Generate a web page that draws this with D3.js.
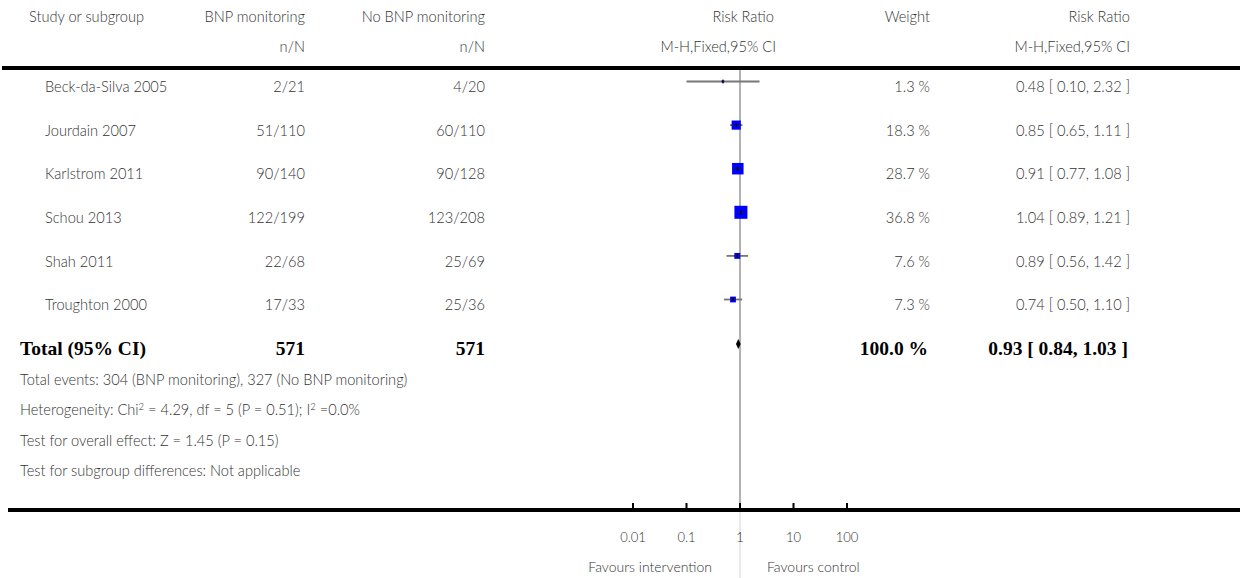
<!DOCTYPE html>
<html lang="en">
<head>
    <meta charset="UTF-8">
    <title>Forest plot: BNP monitoring vs No BNP monitoring</title>
    <script src="https://d3js.org/d3.v7.min.js"></script>
    <style>
        body { margin: 0; background: #fff; }
        svg { display: block; }
        .txt { font-family: Lato, "Open Sans", sans-serif; font-size: 14.6px; fill: #333; font-weight: 300; }
        .tot { font-family: "Liberation Serif", "Times New Roman", serif; font-size: 19.5px; font-weight: bold; fill: #000; }
    </style>
</head>
<body>
<svg width="1242" height="578"></svg>
<script>
    // data
    const studies = ["Beck-da-Silva 2005", "Jourdain 2007", "Karlstrom 2011", "Schou 2013", "Shah 2011", "Troughton 2000"];
    const bnpEvents = [2, 51, 90, 122, 22, 17];
    const bnpTotal = [21, 110, 140, 199, 68, 33];
    const ctrlEvents = [4, 60, 90, 123, 25, 25];
    const ctrlTotal = [20, 110, 128, 208, 69, 36];
    const rr = [0.48, 0.85, 0.91, 1.04, 0.89, 0.74];
    const rrLow = [0.10, 0.65, 0.77, 0.89, 0.56, 0.50];
    const rrHigh = [2.32, 1.11, 1.08, 1.21, 1.42, 1.10];
    const weights = [1.3, 18.3, 28.7, 36.8, 7.6, 7.3];
    const total = { bnp: 571, ctrl: 571, weight: 100.0, rr: 0.93, low: 0.84, high: 1.03 };
    const axisTicks = [0.01, 0.1, 1, 10, 100];
    const footnotes = [
        "Total events: 304 (BNP monitoring), 327 (No BNP monitoring)",
        "Heterogeneity: Chi<sup>2</sup> = 4.29, df = 5 (P = 0.51); I<sup>2</sup> =0.0%",
        "Test for overall effect: Z = 1.45 (P = 0.15)",
        "Test for subgroup differences: Not applicable"
    ];

    const svg = d3.select("svg");
    const fmt = d3.format(".2f");

    const x = d3.scaleLog().domain([0.01, 100]).range([633, 847]);
    const y = d3.scalePoint().domain(studies).range([87, 305]);
    const size = d3.scaleSqrt().domain([0, 36.8]).range([0, 13]);

    // column right edges
    const colBnp = 305, colCtrl = 485, colRR = 776, colW = 930, colCI = 1130;

    function text(str, xp, yp, anchor, cls) {
        return svg.append("text")
            .attr("class", cls || "txt")
            .attr("x", xp).attr("y", yp)
            .attr("dy", "0.35em")
            .attr("text-anchor", anchor || "start")
            .text(str);
    }

    // header
    text("Study or subgroup", 29, 17);
    text("BNP monitoring", colBnp, 17, "end");
    text("n/N", colBnp, 47, "end");
    text("No BNP monitoring", colCtrl, 17, "end");
    text("n/N", colCtrl, 47, "end");
    text("Risk Ratio", colRR - 2, 17, "end");
    text("M-H,Fixed,95% CI", colRR, 47, "end");
    text("Weight", colW, 17, "end");
    text("Risk Ratio", colCI, 17, "end");
    text("M-H,Fixed,95% CI", colCI, 47, "end");

    // null line
    svg.append("line")
        .attr("x1", x(1)).attr("x2", x(1))
        .attr("y1", 68).attr("y2", 510)
        .attr("stroke", "#999").attr("stroke-width", 1.5);
    svg.append("line")
        .attr("x1", x(1)).attr("x2", x(1))
        .attr("y1", 510).attr("y2", 578)
        .attr("stroke", "#e2e2e2").attr("stroke-width", 1.5);

    // thick rules
    svg.append("line").attr("x1", 2).attr("x2", 1240).attr("y1", 68).attr("y2", 68)
        .attr("stroke", "#000").attr("stroke-width", 4);
    svg.append("line").attr("x1", 8).attr("x2", 1240).attr("y1", 510).attr("y2", 510)
        .attr("stroke", "#000").attr("stroke-width", 4);

    // study rows
    studies.forEach((s, i) => {
        const yy = y(s);
        const ym = yy - 5.5;
        text(s, 45, yy);
        text(bnpEvents[i] + "/" + bnpTotal[i], colBnp, yy, "end");
        text(ctrlEvents[i] + "/" + ctrlTotal[i], colCtrl, yy, "end");
        text(weights[i].toFixed(1) + " %", colW, yy, "end");
        text(fmt(rr[i]) + " [ " + fmt(rrLow[i]) + ", " + fmt(rrHigh[i]) + " ]", colCI, yy, "end");

        // CI line
        svg.append("line")
            .attr("x1", x(rrLow[i])).attr("x2", x(rrHigh[i]))
            .attr("y1", ym).attr("y2", ym)
            .attr("stroke", "#777").attr("stroke-width", 1.8);

        // weight square
        const w = size(weights[i]);
        svg.append("rect")
            .attr("x", x(rr[i]) - w / 2).attr("y", ym - w / 2)
            .attr("width", w).attr("height", w)
            .attr("fill", "#0000ff");

        // dark part of CI inside the square + point tick
        const inLo = Math.max(x(rrLow[i]), x(rr[i]) - w / 2);
        const inHi = Math.min(x(rrHigh[i]), x(rr[i]) + w / 2);
        svg.append("line")
            .attr("x1", inLo).attr("x2", inHi)
            .attr("y1", ym).attr("y2", ym)
            .attr("stroke", "#222").attr("stroke-width", 1);
        svg.append("line")
            .attr("x1", x(rr[i])).attr("x2", x(rr[i]))
            .attr("y1", ym - 2).attr("y2", ym + 2)
            .attr("stroke", "#000").attr("stroke-width", 1);
    });

    // total row
    const yt = 348;
    text("Total (95% CI)", 20, yt, "start", "tot");
    text(total.bnp, colBnp, yt, "end", "tot");
    text(total.ctrl, colCtrl, yt, "end", "tot");
    text(total.weight.toFixed(1) + " %", colW - 2, yt, "end", "tot");
    text(fmt(total.rr) + " [ " + fmt(total.low) + ", " + fmt(total.high) + " ]", colCI - 2, yt, "end", "tot");

    const yd = 344;
    svg.append("path")
        .attr("d", `M${x(total.low)},${yd} L${x(total.rr)},${yd - 5} L${x(total.high)},${yd} L${x(total.rr)},${yd + 5} Z`)
        .attr("fill", "#000");

    // footnotes
    const footY = [380, 410, 441, 471];
    footnotes.forEach((f, i) => {
        const t = svg.append("text").attr("class", "txt")
            .attr("x", 20).attr("y", footY[i]).attr("dy", "0.35em");
        f.split(/(<sup>.*?<\/sup>)/).forEach(part => {
            if (part.startsWith("<sup>")) {
                t.append("tspan").attr("baseline-shift", "super").attr("font-size", "9.5px")
                    .text(part.replace(/<\/?sup>/g, ""));
            } else if (part) {
                t.append("tspan").text(part);
            }
        });
    });

    // axis ticks
    const tickG = svg.append("g");
    tickG.selectAll("line").data(axisTicks).join("line")
        .attr("x1", d => x(d)).attr("x2", d => x(d))
        .attr("y1", 503).attr("y2", 510)
        .attr("stroke", "#000").attr("stroke-width", 2);
    tickG.selectAll("text").data(axisTicks).join("text")
        .attr("class", "txt").style("font-size", "13px")
        .attr("x", d => x(d)).attr("y", 537).attr("dy", "0.35em")
        .attr("text-anchor", "middle")
        .text(d => d3.format("~g")(d));

    const fav = text("Favours intervention", x(1) - 28, 567, "end");
    fav.style("font-size", "14px");
    const fav2 = text("Favours control", x(1) + 27, 567, "start");
    fav2.style("font-size", "14px");
</script>
</body>
</html>
